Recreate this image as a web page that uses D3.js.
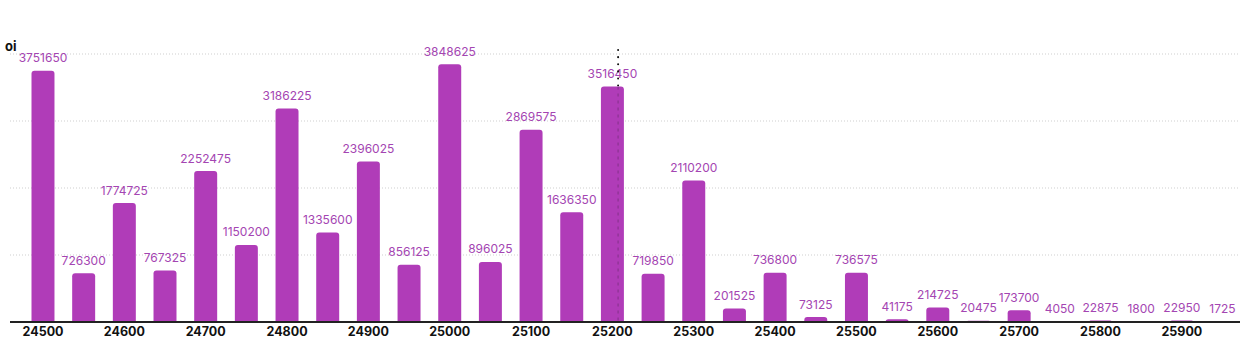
<!DOCTYPE html>
<html>
<head>
<meta charset="utf-8">
<script src="https://cdn.jsdelivr.net/npm/d3@7/dist/d3.min.js"></script>
<style>
  html, body { margin: 0; padding: 0; background: #fff; }
  svg { display: block; font-family: Inter, "Noto Sans", sans-serif; }
</style>
</head>
<body>
<svg id="chart" width="1246" height="342"></svg>
<script>
// Open interest per strike price
const strikes = [24500, 24550, 24600, 24650, 24700, 24750, 24800, 24850, 24900, 24950,
                 25000, 25050, 25100, 25150, 25200, 25250, 25300, 25350, 25400, 25450,
                 25500, 25550, 25600, 25650, 25700, 25750, 25800, 25850, 25900, 25950];
const oi = [3751650, 726300, 1774725, 767325, 2252475, 1150200, 3186225, 1335600, 2396025, 856125,
            3848625, 896025, 2869575, 1636350, 3516450, 719850, 2110200, 201525, 736800, 73125,
            736575, 41175, 214725, 20475, 173700, 4050, 22875, 1800, 22950, 1725];
const tickStrikes = [24500, 24600, 24700, 24800, 24900, 25000, 25100, 25200, 25300, 25400,
                     25500, 25600, 25700, 25800, 25900];
const gridValues = [1000000, 2000000, 3000000, 4000000];
const spotPrice = 25207;

const svg = d3.select("#chart");
const axisLeft = 10, axisRight = 1240, plotTop = 54, plotBottom = 322;

const x = d3.scaleBand().domain(strikes).range([31.5, 1234]).paddingInner(0.435).paddingOuter(0);
const y = d3.scaleLinear().domain([0, 4000000]).range([plotBottom, plotTop]);
const centre = s => x(s) + x.bandwidth() / 2;

// continuous price position, interpolated between strike centres
const priceX = d3.scaleLinear()
  .domain([strikes[0], strikes[strikes.length - 1]])
  .range([centre(strikes[0]), centre(strikes[strikes.length - 1])]);

// horizontal dotted grid
svg.append("g").selectAll("line").data(gridValues).join("line")
  .attr("x1", axisLeft).attr("x2", axisRight)
  .attr("y1", d => y(d)).attr("y2", d => y(d))
  .attr("stroke", "#cfcfcf").attr("stroke-width", 1)
  .attr("stroke-dasharray", "1,2");

// bars with rounded tops
const r = 3;
svg.append("g").selectAll("path").data(strikes).join("path")
  .attr("fill", "#b03cb8")
  .attr("d", (s, i) => {
    const x0 = x(s), w = x.bandwidth(), y0 = y(oi[i]), h = plotBottom - y0;
    const rr = Math.min(r, h, w / 2);
    return `M${x0},${plotBottom}V${y0 + rr}Q${x0},${y0} ${x0 + rr},${y0}H${x0 + w - rr}Q${x0 + w},${y0} ${x0 + w},${y0 + rr}V${plotBottom}Z`;
  });

// value labels
svg.append("g").selectAll("text").data(strikes).join("text")
  .attr("x", s => centre(s))
  .attr("y", (s, i) => y(oi[i]) - 8.5)
  .attr("text-anchor", "middle")
  .attr("font-size", 12)
  .attr("fill", "#a445b2")
  .text((s, i) => oi[i]);

// x axis
const axis = svg.append("g").attr("transform", `translate(0,${plotBottom})`)
  .call(d3.axisBottom(x).tickValues(tickStrikes).tickSize(0).tickPadding(5));
axis.select(".domain").attr("stroke", "#222").attr("stroke-width", 2)
  .attr("d", `M${axisLeft},0H${axisRight}`);
axis.selectAll("text").attr("font-size", 12.5).attr("font-weight", 700)
  .attr("fill", "#111").attr("font-family", "Inter, sans-serif");

// spot price marker: solid dots above the bars, faint where it crosses a bar
const sx = priceX(spotPrice);
const spotIdx = d3.bisectCenter(strikes, spotPrice);
const barTop = y(oi[spotIdx]);
svg.append("line")
  .attr("x1", sx).attr("x2", sx).attr("y1", 50).attr("y2", plotBottom)
  .attr("stroke", "#111").attr("stroke-width", 2).attr("stroke-linecap", "round")
  .attr("stroke-dasharray", "0.1,7")
  .attr("clip-path", "url(#aboveBar)");
svg.append("clipPath").attr("id", "aboveBar").append("rect")
  .attr("x", 0).attr("y", 0).attr("width", 1246).attr("height", barTop);
svg.append("line")
  .attr("x1", sx).attr("x2", sx).attr("y1", barTop).attr("y2", plotBottom)
  .attr("stroke", "#111").attr("stroke-width", 1.5).attr("opacity", 0.18)
  .attr("stroke-dasharray", "3,4");

// axis title
svg.append("text").attr("x", 5).attr("y", 51)
  .attr("font-size", 13).attr("font-weight", 700).attr("fill", "#111")
  .text("oi");
</script>
</body>
</html>
